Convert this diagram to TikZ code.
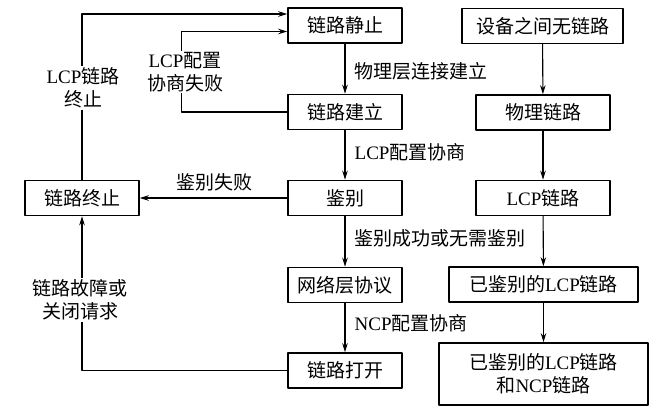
\documentclass[tikz,border=0pt]{standalone}
\usepackage{fontspec}
\setmainfont{Liberation Serif}
\newfontfamily\cjk{Noto Sans CJK SC}
\usetikzlibrary{arrows.meta, calc, positioning}
\newcommand{\en}[1]{{\rmfamily #1}}

\begin{document}
\begin{tikzpicture}[
    x=1pt, y=-1pt,
    line cap=round,
    line join=round,
    kasten/.style  = {draw, line width=1.6pt, fill=white, minimum height=35pt,
                      inner sep=2pt, align=center, font=\cjk\fontsize{19}{23}\selectfont},
    linie/.style   = {line width=1.1pt},
    pfeil/.style   = {line width=1.1pt, -{Stealth[length=9pt,width=5.5pt]}},
    etikett/.style = {inner sep=1.5pt, align=center, font=\cjk\fontsize{19}{23}\selectfont}
]
\useasboundingbox (0,0) rectangle (666,410);

% ---- mittlere Spalte: Zustaende ----
\node[kasten, minimum width=114pt] (ruhe)  at (345,25.5)  {链路静止};
\node[kasten, minimum width=114pt] (aufbau) at (345,112)  {链路建立};
\node[kasten, minimum width=114pt] (pruef) at (345,198)   {鉴别};
\node[kasten, minimum width=114pt] (netz)  at (345,285)   {网络层协议};
\node[kasten, minimum width=114pt] (offen) at (345,370.5) {链路打开};
\node[kasten, minimum width=114pt] (ende)  at (82,198)    {链路终止};

% ---- rechte Spalte ----
\node[kasten, minimum width=161pt] (nichts) at (542.5,26)  {设备之间无链路};
\node[kasten, minimum width=134pt] (phys)   at (543,112.5) {物理链路};
\node[kasten, minimum width=134pt] (lcp)    at (543,198)   {\en{LCP}链路};
\node[kasten, minimum width=189pt] (lcpok)  at (543.5,284.5) {已鉴别的\en{LCP}链路};
\node[kasten, minimum width=209pt, minimum height=62pt] (ncp) at (543.5,374)
    {已鉴别的\en{LCP}链路\\和\en{NCP}链路};

% ---- Uebergaenge, Mitte ----
\draw[pfeil] (ruhe)  -- (aufbau);
\draw[pfeil] (aufbau) -- (pruef);
\draw[pfeil] (pruef) -- (netz);
\draw[pfeil] (netz)  -- (offen);
\node[etikett, anchor=west] (l1) at (353,71)  {物理层连接建立};
\node[etikett, anchor=west] (l2) at (353,152) {\en{LCP}配置协商};
\node[etikett, anchor=west] (l3) at (353,238) {鉴别成功或无需鉴别};
\node[etikett, anchor=west] (l4) at (353,323) {\en{NCP}配置协商};

% ---- Uebergaenge, rechts ----
\draw[pfeil] (nichts) -- (phys);
\draw[pfeil] (phys)   -- (lcp);
\draw[pfeil] (lcp)    -- (lcpok);
\draw[pfeil] (lcpok)  -- (ncp);

% ---- Rueckwege ----
\draw[pfeil] (ende.north) |- ($(ruhe.west)+(0,-11.5)$);
\draw[pfeil] (aufbau.west) -- ++(-106,0) |- ($(ruhe.west)+(0,6)$);
\draw[pfeil] (pruef) -- (ende);
\draw[pfeil] (offen.west) -| (ende.south);
\node[etikett, fill=white] (l5) at (83,88)  {\en{LCP}链路\\终止};
\node[etikett, fill=white] (l6) at (185,72) {\en{LCP}配置\\协商失败};
\node[etikett] (l7) at (214,182) {鉴别失败};
\node[etikett, fill=white] (l8) at (80,300) {链路故障或\\关闭请求};

\end{tikzpicture}
\end{document}
